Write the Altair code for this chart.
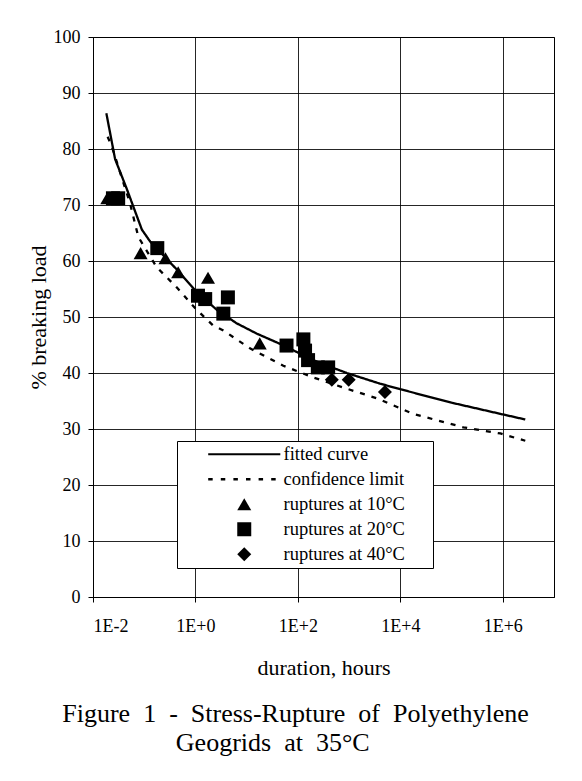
import altair as alt
import pandas as pd

FONT = "Liberation Serif"

# ---- data ----
fit_t = [0.0182, 0.027, 0.046, 0.09, 0.13, 0.43, 1.05, 2.6, 6.3, 16, 45, 200, 430, 900, 4000, 1e4, 1e5, 9e5, 2.75e6]
fit_v = [86.4, 78.2, 72.8, 65.6, 63.5, 58.5, 54.5, 51.3, 48.9, 47.0, 45.2, 42.3, 41.1, 40.0, 38.1, 37.1, 34.7, 32.7, 31.7]

conf_t = [0.0193, 0.0232, 0.0528, 0.0767, 0.175, 0.43, 0.98, 2.2, 3.5, 11.6, 52, 200, 900, 3700, 17800, 1.7e5, 9e5, 2.75e6]
conf_v = [82.2, 80.5, 70.3, 64.3, 58.9, 55.3, 51.6, 48.5, 47.6, 44.4, 41.3, 39.2, 37.2, 35.4, 32.7, 30.3, 29.2, 27.9]

t10 = [0.019, 0.085, 0.26, 0.46, 1.76, 18]
v10 = [71.2, 61.4, 60.5, 58.0, 57.0, 45.3]

t20 = [0.0245, 0.031, 0.18, 1.12, 1.55, 3.5, 4.3, 60, 128, 138, 158, 245, 390]
v20 = [71.2, 71.2, 62.3, 53.8, 53.2, 50.6, 53.5, 44.9, 46.0, 44.0, 42.3, 41.0, 41.0]

t40 = [460, 980, 5000]
v40 = [38.8, 38.8, 36.6]

series_labels = ["fitted curve", "confidence limit",
                 "ruptures at 10°C", "ruptures at 20°C", "ruptures at 40°C"]

x_tick_values = [0.01, 1, 100, 1e4, 1e6]
x_tick_labels = ["1E-2", "1E+0", "1E+2", "1E+4", "1E+6"]
y_tick_values = [0, 10, 20, 30, 40, 50, 60, 70, 80, 90, 100]

x_title = "duration, hours"
y_title = "% breaking load"
NB = "\u00a0"
ZW = "\u200b"
caption = ["Figure " + NB + "1 " + NB + "- " + NB + "Stress-Rupture " + NB + "of " + NB + "Polyethylene",
           "Geogrids " + NB + "at " + NB + "35°C" + NB * 7 + ZW]

# ---- tables ----
lines_df = pd.DataFrame({
    "t": fit_t + conf_t,
    "v": fit_v + conf_v,
    "series": [series_labels[0]] * len(fit_t) + [series_labels[1]] * len(conf_t),
})
pts_df = pd.DataFrame({
    "t": t10 + t20 + t40,
    "v": v10 + v20 + v40,
    "series": [series_labels[2]] * len(t10) + [series_labels[3]] * len(t20) + [series_labels[4]] * len(t40),
})

# legend symbols drawn as thin filled paths (unit = sqrt(196)/2 = 7 px)
half = 5.15
th = 0.15
solid_path = f"M{-half},{-th}H{half}V{th}H{-half}Z"
dash_parts = []
pos = -half
dth = 0.18
while pos < half + 0.4:
    dash_parts.append(f"M{pos:.2f},{-dth}H{pos + 0.64:.2f}V{dth}H{pos:.2f}Z")
    pos += 1.8
dash_path = "".join(dash_parts)

label_expr = " : ".join(
    f"abs(datum.value - {v}) < {v * 0.01} ? '{lab}'" for v, lab in zip(x_tick_values, x_tick_labels)
) + " : ''"

x_enc = alt.X(
    "t:Q",
    scale=alt.Scale(type="log", domain=[0.01, 1e7], nice=False),
    axis=alt.Axis(values=x_tick_values, labelExpr=label_expr, title=x_title,
                  labelPadding=15, titlePadding=22),
)
y_enc = alt.Y(
    "v:Q",
    scale=alt.Scale(domain=[0, 100], nice=False),
    axis=alt.Axis(values=y_tick_values, title=y_title, labelPadding=8, titlePadding=3),
)

lines = alt.Chart(lines_df).mark_line(color="black", strokeWidth=2.3).encode(
    x=x_enc,
    y=y_enc,
    strokeDash=alt.StrokeDash(
        "series:N",
        scale=alt.Scale(domain=series_labels[:2], range=[[1, 0], [5, 7]]),
        legend=None,
    ),
    order=alt.Order("t:Q"),
)

points = alt.Chart(pts_df).mark_point(
    filled=True, color="black", opacity=1, size=196
).encode(
    x=x_enc,
    y=y_enc,
    shape=alt.Shape(
        "series:N",
        scale=alt.Scale(domain=series_labels,
                        range=[solid_path, dash_path, "triangle-up", "square", "diamond"]),
        legend=alt.Legend(
            title=None, orient="none", legendX=84, legendY=404,
            fillColor="white", strokeColor="black", padding=4,
            labelFont=FONT, labelFontSize=18.5, labelColor="black",
            labelExpr="datum.label + '" + NB * 5 + ZW + "'",
            symbolSize=196, symbolFillColor="black", symbolStrokeWidth=0,
            symbolOpacity=1, symbolOffset=54, labelOffset=30, rowPadding=6,
        ),
    ),
)

chart = alt.layer(lines, points).properties(
    width=461, height=560,
    background="white",
    autosize=alt.AutoSizeParams(type="none"),
    padding={"left": 85, "top": 29, "right": 20, "bottom": 170},
    title=alt.TitleParams(text=caption, orient="bottom", anchor="middle", font=FONT,
                          fontSize=26, fontWeight="normal", color="black",
                          lineHeight=29, offset=23, dx=-28),
).configure_view(
    stroke="black", strokeWidth=1
).configure_axis(
    labelFont=FONT, titleFont=FONT, labelFontSize=18, titleFontSize=22,
    titleFontWeight="normal", labelColor="black", titleColor="black",
    domainColor="black", tickColor="black", tickSize=5, gridColor="black",
    gridOpacity=0.85, gridWidth=1, grid=True,
)

chart.save("out.html", embed_options={"renderer": "svg", "actions": False})
